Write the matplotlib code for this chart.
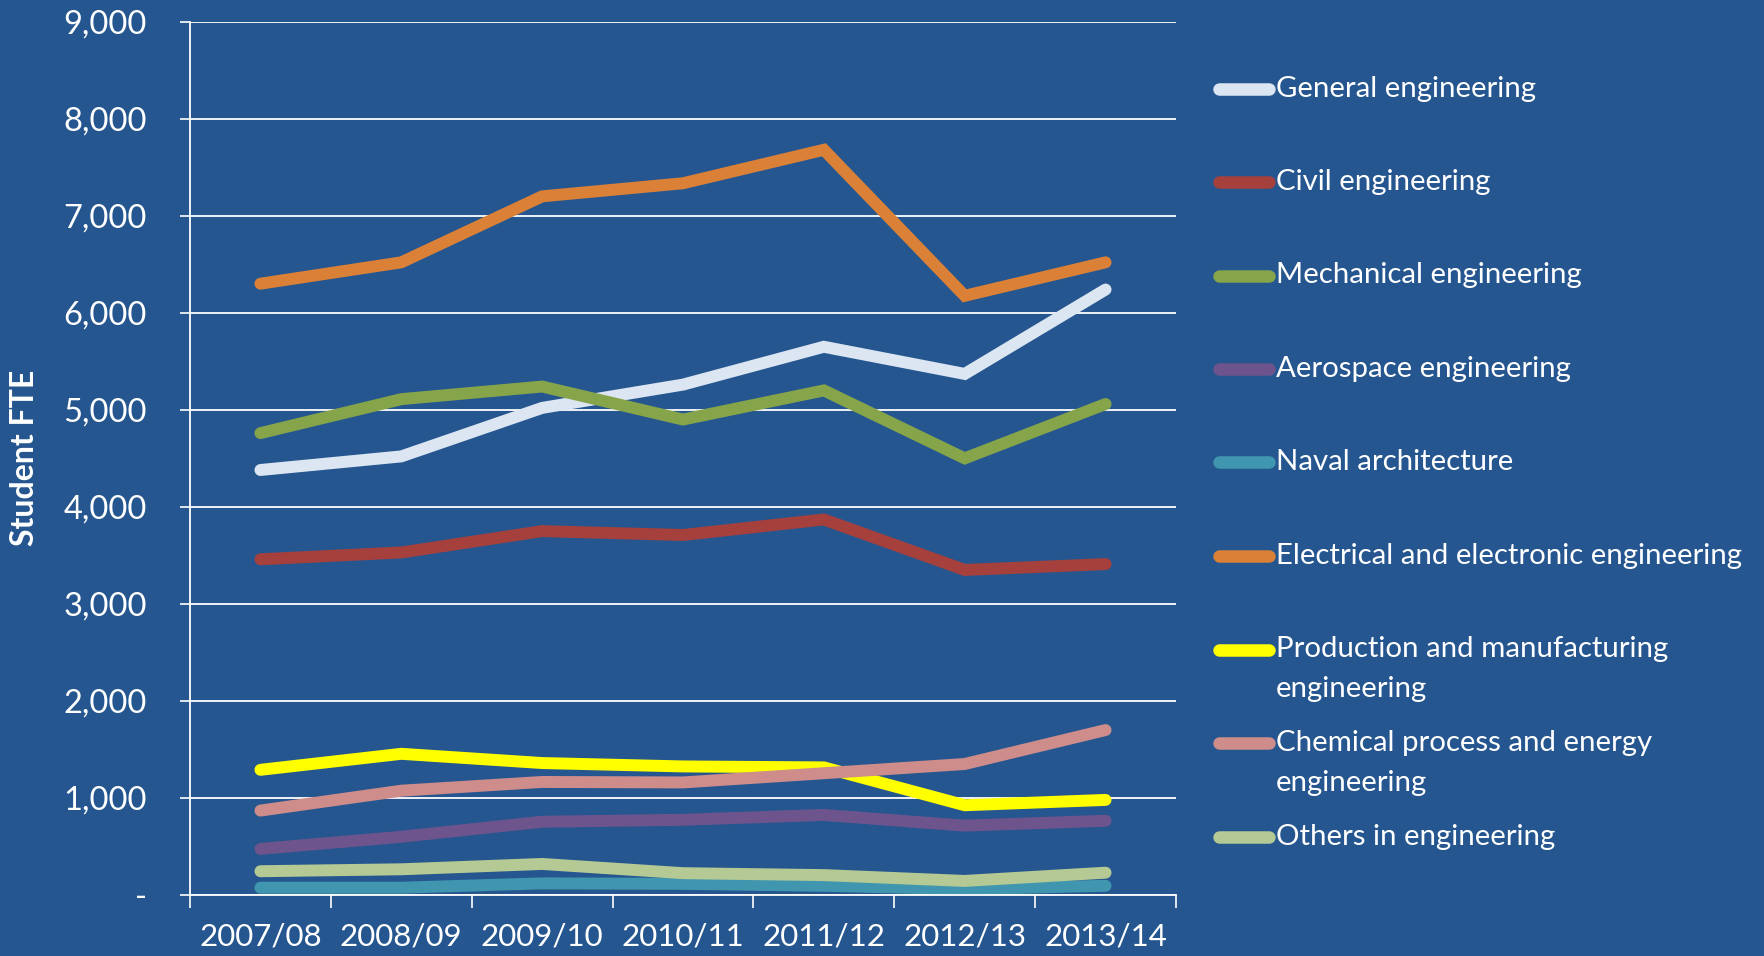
import matplotlib.pyplot as plt
from matplotlib.lines import Line2D

years = ['2007/08', '2008/09', '2009/10', '2010/11', '2011/12', '2012/13', '2013/14']

general = [4380, 4520, 5020, 5260, 5650, 5370, 6240]
civil = [3460, 3530, 3750, 3710, 3870, 3350, 3410]
mechanical = [4760, 5110, 5240, 4900, 5200, 4500, 5060]
aerospace = [475, 600, 755, 775, 825, 715, 765]
naval = [75, 75, 120, 115, 95, 60, 95]
electrical = [6300, 6520, 7200, 7335, 7680, 6175, 6520]
production = [1290, 1455, 1360, 1325, 1315, 925, 980]
chemical = [870, 1075, 1165, 1160, 1255, 1350, 1700]
others = [245, 265, 320, 225, 205, 145, 230]

series_names = ['General engineering', 'Civil engineering', 'Mechanical engineering',
                'Aerospace engineering', 'Naval architecture',
                'Electrical and electronic engineering',
                'Production and manufacturing\nengineering',
                'Chemical process and energy\nengineering', 'Others in engineering']
series_values = [general, civil, mechanical, aerospace, naval, electrical,
                 production, chemical, others]
colors = ['#DCE6F2', '#A5403D', '#86A44A', '#6E548D', '#4096AF', '#DA8137',
          '#FFFF00', '#CE8C8B', '#B4C994']

bg = '#25568F'
W, H = 1765, 956

plt.rcParams['font.family'] = ['Lato', 'DejaVu Sans']

fig = plt.figure(figsize=(W / 100, H / 100), dpi=100, facecolor=bg)
ax = fig.add_axes([190 / W, 1 - 895 / H, (1176 - 190) / W, (895 - 21.7) / H])
ax.set_facecolor(bg)

x = list(range(len(years)))
for name, vals, c in zip(series_names, series_values, colors):
    ax.plot(x, vals, color=c, linewidth=8.6, solid_capstyle='round',
            solid_joinstyle='miter', label=name)

ax.set_xlim(-0.5, len(years) - 0.5)
ax.set_ylim(0, 9000)

# y axis
ax.set_yticks(range(0, 9001, 1000))
ax.set_yticklabels(['-' if v == 0 else f'{v:,}' for v in range(0, 9001, 1000)])
ax.tick_params(axis='y', colors='white', labelcolor='white', labelsize=23.5,
               length=7, width=1.2, pad=24)
ax.grid(axis='y', color='white', linewidth=1.3)
ax.set_axisbelow(True)

# x axis: ticks at boundaries, labels at centres
ax.set_xticks([i - 0.5 for i in range(len(years) + 1)])
ax.set_xticklabels([])
ax.set_xticks(x, minor=True)
ax.set_xticklabels(years, minor=True)
ax.tick_params(axis='x', which='major', colors='white', length=9, width=1.2, direction='out')
ax.tick_params(axis='x', which='minor', length=0, labelcolor='white', labelsize=22.5, pad=20)

for s in ['top', 'right']:
    ax.spines[s].set_visible(False)
for s in ['left', 'bottom']:
    ax.spines[s].set_color('white')
    ax.spines[s].set_linewidth(1.3)

fig.text(25 / W, 1 - 458 / H, 'Student FTE', rotation=90, color='white',
         fontsize=23, fontweight='bold', ha='center', va='center')

# legend, drawn by hand so two-line entries keep Excel's even slots
for i, (name, c) in enumerate(zip(series_names, colors)):
    yp = 88.5 + i * 93.5
    fig.add_artist(Line2D([1219 / W, 1269 / W], [1 - yp / H, 1 - yp / H],
                          color=c, linewidth=9, solid_capstyle='round',
                          transform=fig.transFigure))
    for j, line in enumerate(name.split('\n')):
        fig.text(1276 / W, 1 - (yp + j * 40) / H, line, color='white',
                 fontsize=21.2, ha='left', va='center')

fig.savefig('out.png', dpi=100, facecolor=bg)
